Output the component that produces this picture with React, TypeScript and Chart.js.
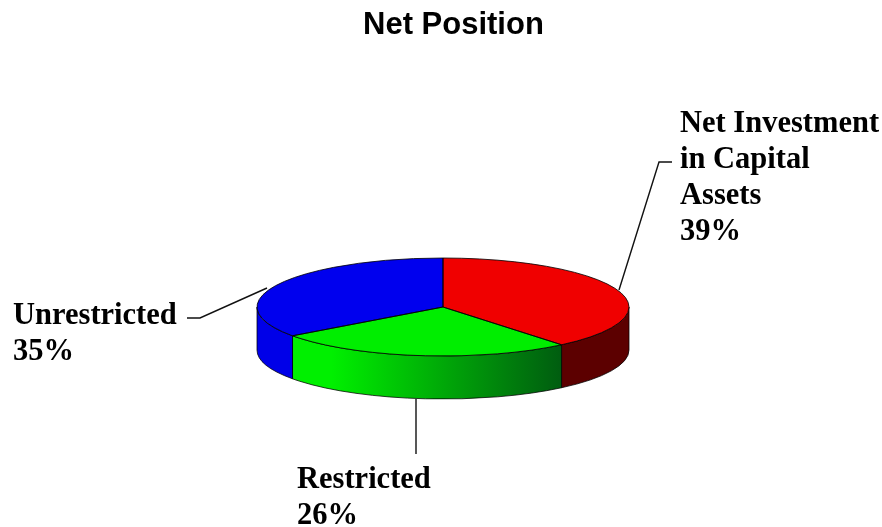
import React, { useEffect, useRef } from "react";
import { Chart, registerables } from "chart.js";

Chart.register(...registerables);

const titleText = "Net Position";
const categories = ["Net Investment in Capital Assets", "Restricted", "Unrestricted"];
const shareValues = [39, 26, 35];
const labelLines = [["Net Investment", "in Capital", "Assets"], ["Restricted"], ["Unrestricted"]];
const topColors = ["#f00000", "#00ee00", "#0000ee"];
const wallBright = ["#f00000", "#00f000", "#0000e8"];
const wallDark = ["#5c0000", "#005c10", "#000060"];

const labelAnchors = [
  { x: 680, y: 132 },
  { x: 297, y: 488 },
  { x: 13, y: 324 },
];
const leaderPaths = [
  [[619, 290], [659, 162], [672, 162]],
  [[416, 399], [416, 454]],
  [[267, 288], [200, 318], [187, 318]],
];

const SQUASH = 49 / 186;
const DEPTH = 43;
const SERIF = 'bold 30.5px "Liberation Serif"';

const pie3d = {
  id: "pie3d",
  beforeDatasetsDraw(chart: any) {
    const ctx = chart.ctx;
    const arcs = chart.getDatasetMeta(0).data;
    const { x: cx, y: cy, outerRadius: rx } = arcs[0];
    const ry = rx * SQUASH;
    ctx.save();
    arcs.forEach((arc: any, i: number) => {
      const a = Math.max(arc.startAngle, 0);
      const b = Math.min(arc.endAngle, Math.PI);
      if (b <= a) return;
      const g = ctx.createLinearGradient(cx - rx, 0, cx + rx, 0);
      g.addColorStop(0, wallBright[i]);
      g.addColorStop(0.2, wallBright[i]);
      g.addColorStop(0.82, wallDark[i]);
      g.addColorStop(1, wallDark[i]);
      ctx.beginPath();
      ctx.ellipse(cx, cy + DEPTH, rx, ry, 0, a, b);
      ctx.ellipse(cx, cy, rx, ry, 0, b, a, true);
      ctx.closePath();
      ctx.fillStyle = g;
      ctx.fill();
      ctx.strokeStyle = "rgba(0,0,0,0.75)";
      ctx.lineWidth = 1;
      ctx.stroke();
    });
    ctx.restore();
    ctx.save();
    ctx.translate(cx, cy);
    ctx.scale(1, SQUASH);
    ctx.translate(-cx, -cy);
  },
  afterDatasetsDraw(chart: any) {
    const ctx = chart.ctx;
    ctx.restore();
    const arcs = chart.getDatasetMeta(0).data;
    const { x: cx, y: cy, outerRadius: rx } = arcs[0];
    const ry = rx * SQUASH;
    ctx.save();
    ctx.strokeStyle = "rgba(0,0,0,0.8)";
    ctx.lineWidth = 1;
    arcs.forEach((arc: any) => {
      ctx.beginPath();
      ctx.moveTo(cx, cy);
      ctx.ellipse(cx, cy, rx, ry, 0, arc.startAngle, arc.endAngle);
      ctx.closePath();
      ctx.stroke();
    });
    ctx.restore();
  },
  afterDraw(chart: any) {
    const ctx = chart.ctx;
    ctx.save();
    ctx.fillStyle = "#000";
    ctx.textAlign = "left";
    ctx.textBaseline = "alphabetic";
    ctx.font = 'bold 31px "Liberation Sans"';
    ctx.fillText(titleText, 363, 34);

    ctx.strokeStyle = "#111";
    ctx.lineWidth = 1.4;
    leaderPaths.forEach((p) => {
      ctx.beginPath();
      p.forEach(([x, y], k) => (k ? ctx.lineTo(x, y) : ctx.moveTo(x, y)));
      ctx.stroke();
    });

    ctx.fillStyle = "#000";
    ctx.font = SERIF;
    categories.forEach((_, i) => {
      const lines = [...labelLines[i], `${shareValues[i]}%`];
      lines.forEach((line, k) => {
        ctx.fillText(line, labelAnchors[i].x, labelAnchors[i].y + k * 36);
      });
    });
    ctx.restore();
  },
};

export default function App() {
  const ref = useRef<HTMLCanvasElement>(null);
  useEffect(() => {
    const chart = new Chart(ref.current!, {
      type: "pie",
      data: {
        labels: categories,
        datasets: [{ data: shareValues, backgroundColor: topColors, borderWidth: 0 }],
      },
      options: {
        responsive: false,
        animation: false,
        layout: { padding: { left: 257, right: 253, top: 121, bottom: 34 } },
        plugins: { legend: { display: false }, tooltip: { enabled: false }, title: { display: false } },
      },
      plugins: [pie3d],
    } as any);
    return () => chart.destroy();
  }, []);
  return (
    <canvas
      ref={ref}
      width={882}
      height={527}
      style={{ position: "fixed", left: 0, top: 0, width: 882, height: 527, display: "block" }}
    />
  );
}
